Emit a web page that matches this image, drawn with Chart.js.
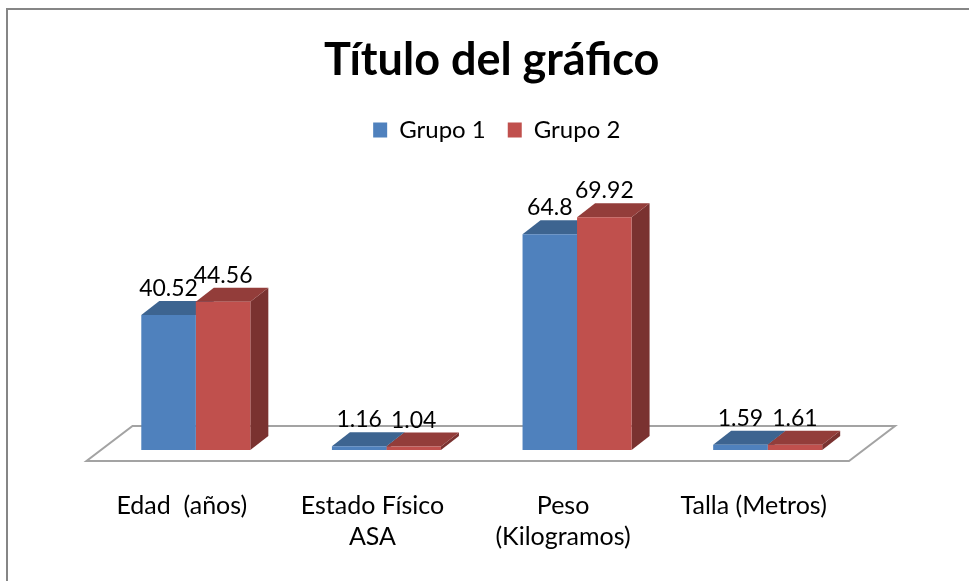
<!DOCTYPE html>
<html>
<head>
<meta charset="utf-8">
<title>Título del gráfico</title>
<script src="https://cdn.jsdelivr.net/npm/chart.js@4"></script>
<style>
  html, body { margin: 0; padding: 0; background: #fff; }
  canvas { display: block; }
</style>
</head>
<body>
<canvas id="grafico" width="969" height="581"></canvas>
<script>
const categorias = ['Edad  (años)', ['Estado Físico', 'ASA'], ['Peso', '(Kilogramos)'], 'Talla (Metros)'];
const grupo1 = [40.52, 1.16, 64.8, 1.59];
const grupo2 = [44.56, 1.04, 69.92, 1.61];

const FUENTE = 'Lato, "Open Sans", sans-serif';
const PROF_X = 18, PROF_Y = 14; // profundidad del efecto 3D

// marco, suelo y caras 3D de las barras
const efecto3d = {
    id: 'efecto3d',
    afterLayout(chart) {
        // titulo y leyenda van algo a la derecha del centro del area
        chart.titleBlock.left += 10;
        chart.titleBlock.right += 10;
        chart.legend.left += 15;
        chart.legend.right += 15;
    },
    beforeDraw(chart) {
        const c = chart.ctx;
        c.save();
        c.fillStyle = '#fff';
        c.fillRect(0, 0, chart.width, chart.height);
        c.strokeStyle = '#868686';
        c.lineWidth = 2;
        c.beginPath();
        c.moveTo(7, chart.height);
        c.lineTo(7, 9);
        c.lineTo(chart.width, 9);
        c.stroke();
        c.restore();
    },
    beforeDatasetsDraw(chart) {
        const c = chart.ctx, a = chart.chartArea;
        c.save();
        c.strokeStyle = '#a3a3a3';
        c.lineWidth = 2;
        c.beginPath();
        c.moveTo(a.left - 14, a.bottom + 11);
        c.lineTo(a.right - 14, a.bottom + 11);
        c.lineTo(a.right + 32, a.bottom - 24);
        c.lineTo(a.left + 32, a.bottom - 24);
        c.closePath();
        c.stroke();

        chart.data.datasets.forEach((ds, i) => {
            chart.getDatasetMeta(i).data.forEach(bar => {
                const izq = bar.x - bar.width / 2, der = bar.x + bar.width / 2;
                // cara lateral
                c.fillStyle = ds.colorLado;
                c.beginPath();
                c.moveTo(der, bar.y);
                c.lineTo(der + PROF_X, bar.y - PROF_Y);
                c.lineTo(der + PROF_X, bar.base - PROF_Y);
                c.lineTo(der, bar.base);
                c.closePath();
                c.fill();
                // cara superior
                c.fillStyle = ds.colorTapa;
                c.beginPath();
                c.moveTo(izq, bar.y);
                c.lineTo(izq + PROF_X, bar.y - PROF_Y);
                c.lineTo(der + PROF_X, bar.y - PROF_Y);
                c.lineTo(der, bar.y);
                c.closePath();
                c.fill();
            });
        });
        c.restore();
    },
    afterDatasetsDraw(chart) {
        const c = chart.ctx;
        c.save();
        c.font = '23px ' + FUENTE;
        c.fillStyle = '#000';
        c.textAlign = 'center';
        c.textBaseline = 'alphabetic';
        chart.data.datasets.forEach((ds, i) => {
            chart.getDatasetMeta(i).data.forEach((bar, j) => {
                c.fillText(String(ds.data[j]), bar.x, bar.y - 19);
            });
        });
        c.restore();
    }
};

new Chart(document.getElementById('grafico'), {
    type: 'bar',
    data: {
        labels: categorias,
        datasets: [{
            label: 'Grupo 1',
            data: grupo1,
            backgroundColor: '#4f81bd',
            colorTapa: '#3d6490',
            colorLado: '#335478',
            categoryPercentage: 0.572,
            barPercentage: 1
        }, {
            label: 'Grupo 2',
            data: grupo2,
            backgroundColor: '#c0504d',
            colorTapa: '#933d3a',
            colorLado: '#7a3230',
            categoryPercentage: 0.572,
            barPercentage: 1
        }]
    },
    options: {
        responsive: false,
        animation: false,
        layout: { padding: { left: 100.5, right: 106, top: 0, bottom: 0 } },
        plugins: {
            title: {
                display: true,
                text: 'Título del gráfico',
                color: '#000',
                font: { family: FUENTE, size: 45, weight: 'bold' },
                padding: { top: 33, bottom: 9 }
            },
            legend: {
                position: 'top',
                labels: {
                    color: '#000',
                    font: { family: FUENTE, size: 24 },
                    boxWidth: 14,
                    boxHeight: 15,
                    padding: 22
                }
            },
            tooltip: { enabled: false }
        },
        scales: {
            x: {
                afterFit(scale) { scale.height = 131; },
                grid: { display: false, drawTicks: false },
                border: { display: false },
                ticks: {
                    color: '#000',
                    font: { family: FUENTE, size: 25, lineHeight: 1.24 },
                    padding: 40,
                    labelOffset: -14,
                    maxRotation: 0,
                    autoSkip: false
                }
            },
            y: { display: false, min: 0, max: 89.5 }
        }
    },
    plugins: [efecto3d]
});
</script>
</body>
</html>
